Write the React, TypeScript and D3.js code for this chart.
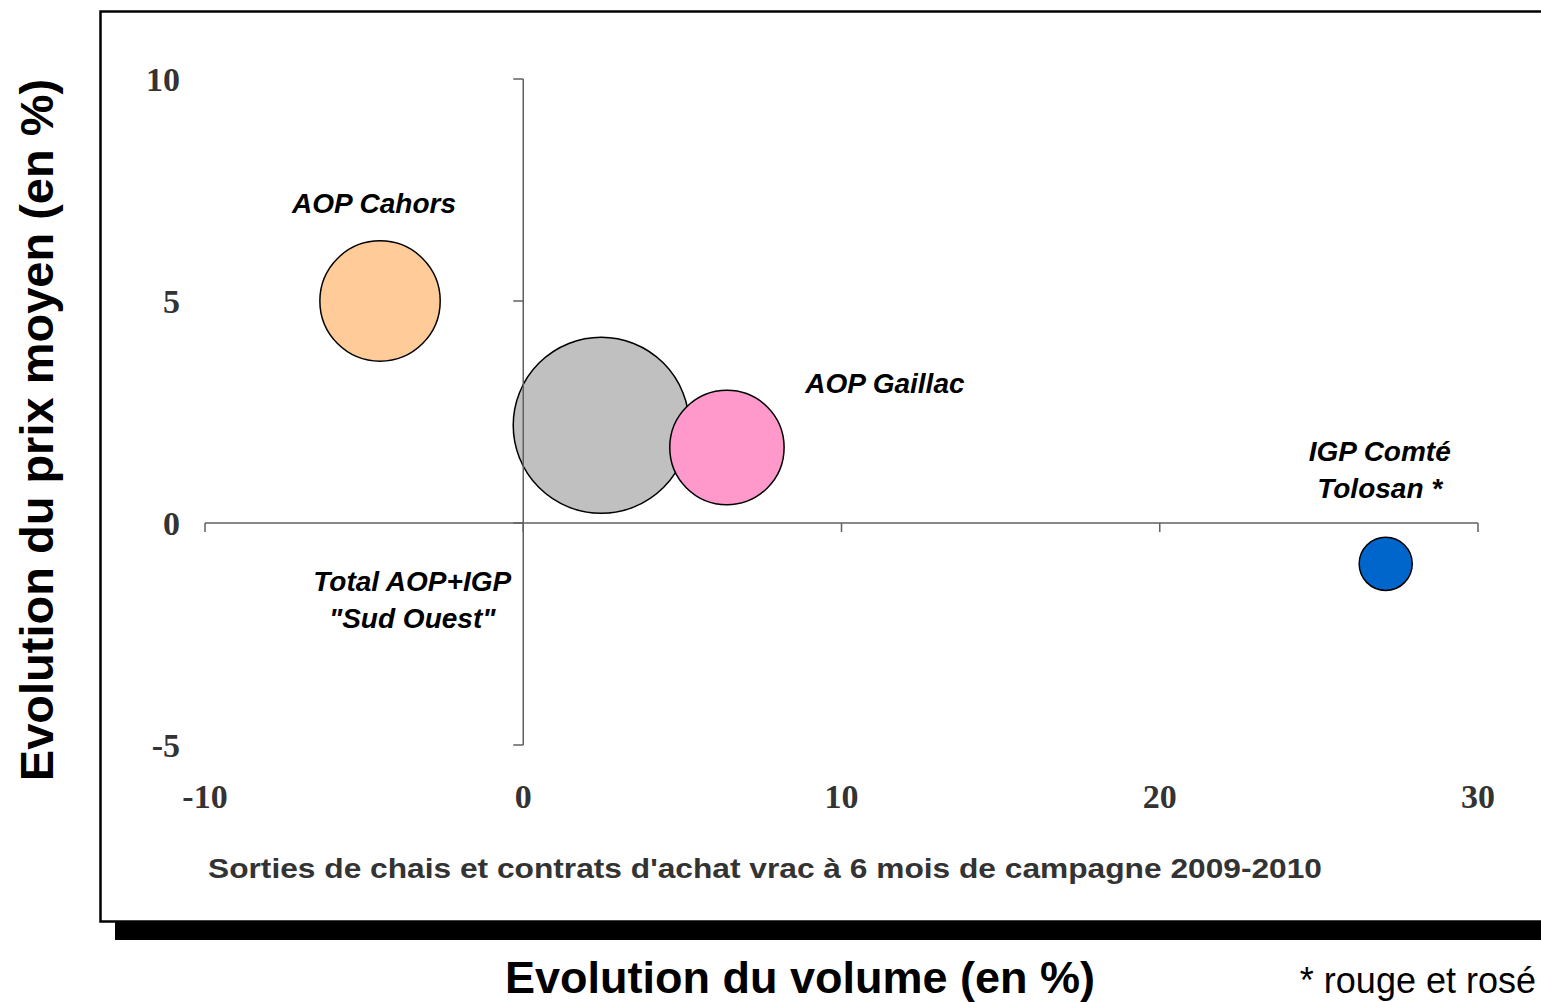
import React from "react";
import * as d3 from "d3";

const names = ["AOP Cahors", "Total AOP+IGP \"Sud Ouest\"", "AOP Gaillac", "IGP Comté Tolosan *"];
const volumeChange = [-4.5, 2.45, 6.4, 27.1];
const priceChange = [5.0, 2.2, 1.7, -0.92];
const bubbleSize = [36, 77, 32.5, 7];
const colors = ["#FFCC99", "#C0C0C0", "#FF99CC", "#0066CC"];
const xTicks = [-10, 0, 10, 20, 30];
const yTicks = [-5, 0, 5, 10];
const labelLines = [["AOP Cahors"], ["Total AOP+IGP", "\"Sud Ouest\""], ["AOP Gaillac"], ["IGP Comté", "Tolosan *"]];
const labelOffsets = [[-6, -88], [-189, 166], [158, -55], [-6, -103]];

export default function App() {
  const W = 1541, H = 1002;
  const x = d3.scaleLinear().domain([-10, 30]).range([205, 1478]);
  const y = d3.scaleLinear().domain([-5, 10]).range([745, 79]);
  const r = d3.scaleSqrt().domain([0, 77]).range([0, 88]);
  const axisColor = "#606060";
  const tickFont = "'Liberation Serif', 'Times New Roman', serif";
  const sans = "'Liberation Sans', Arial, sans-serif";
  return (
    <svg width={W} height={H} style={{ position: "absolute", left: 0, top: 0 }}>
      <rect x={0} y={0} width={W} height={H} fill="#fff" />
      {/* frame */}
      <rect x={115} y={922} width={W - 115} height={18} fill="#000" />
      <rect x={100.5} y={11.5} width={W + 20} height={910} fill="none" stroke="#000" strokeWidth={2.5} />
      {/* bubbles */}
      {names.map((n, i) => (
        <circle key={n} cx={x(volumeChange[i])} cy={y(priceChange[i])} r={r(bubbleSize[i])}
          fill={colors[i]} stroke="#000" strokeWidth={1.5} />
      ))}
      {/* axes */}
      <line x1={x(-10)} x2={x(30)} y1={y(0)} y2={y(0)} stroke={axisColor} strokeWidth={1.5} />
      {xTicks.map(t => (
        <line key={"xt" + t} x1={x(t)} x2={x(t)} y1={y(0)} y2={y(0) + 9} stroke={axisColor} strokeWidth={1.5} />
      ))}
      <line x1={x(0)} x2={x(0)} y1={y(10)} y2={y(-5)} stroke={axisColor} strokeWidth={1.5} />
      {yTicks.map(t => (
        <line key={"yt" + t} x1={x(0) - 10} x2={x(0)} y1={y(t)} y2={y(t)} stroke={axisColor} strokeWidth={1.5} />
      ))}
      {xTicks.map(t => (
        <text key={"xl" + t} x={x(t)} y={808} textAnchor="middle" fontFamily={tickFont} fontWeight="bold"
          fontSize={34} fill="#333">{t}</text>
      ))}
      {yTicks.map(t => (
        <text key={"yl" + t} x={180} y={y(t) + 12} textAnchor="end" fontFamily={tickFont} fontWeight="bold"
          fontSize={34} fill="#333">{t}</text>
      ))}
      {/* labels */}
      {names.map((n, i) => (
        <text key={"lab" + n} textAnchor="middle" fontFamily={sans} fontWeight="bold" fontStyle="italic"
          fontSize={28} fill="#000">
          {labelLines[i].map((ln, j) => (
            <tspan key={j} x={x(volumeChange[i]) + labelOffsets[i][0]} y={y(priceChange[i]) + labelOffsets[i][1] + j * 37}>{ln}</tspan>
          ))}
        </text>
      ))}
      <text x={765} y={878} textAnchor="middle" fontFamily={sans} fontWeight="bold" fontSize={28} fill="#333"
        textLength={1114} lengthAdjust="spacingAndGlyphs">
        Sorties de chais et contrats d'achat vrac à 6 mois de campagne 2009-2010
      </text>
      <text x={800} y={993} textAnchor="middle" fontFamily={sans} fontWeight="bold" fontSize={45} fill="#000">
        Evolution du volume (en %)
      </text>
      <text x={1536} y={993} textAnchor="end" fontFamily={sans} fontSize={36} fill="#000">* rouge et rosé</text>
      <text transform="translate(53,430) rotate(-90)" textAnchor="middle" fontFamily={sans} fontWeight="bold"
        fontSize={47} fill="#000">Evolution du prix moyen (en %)</text>
    </svg>
  );
}
